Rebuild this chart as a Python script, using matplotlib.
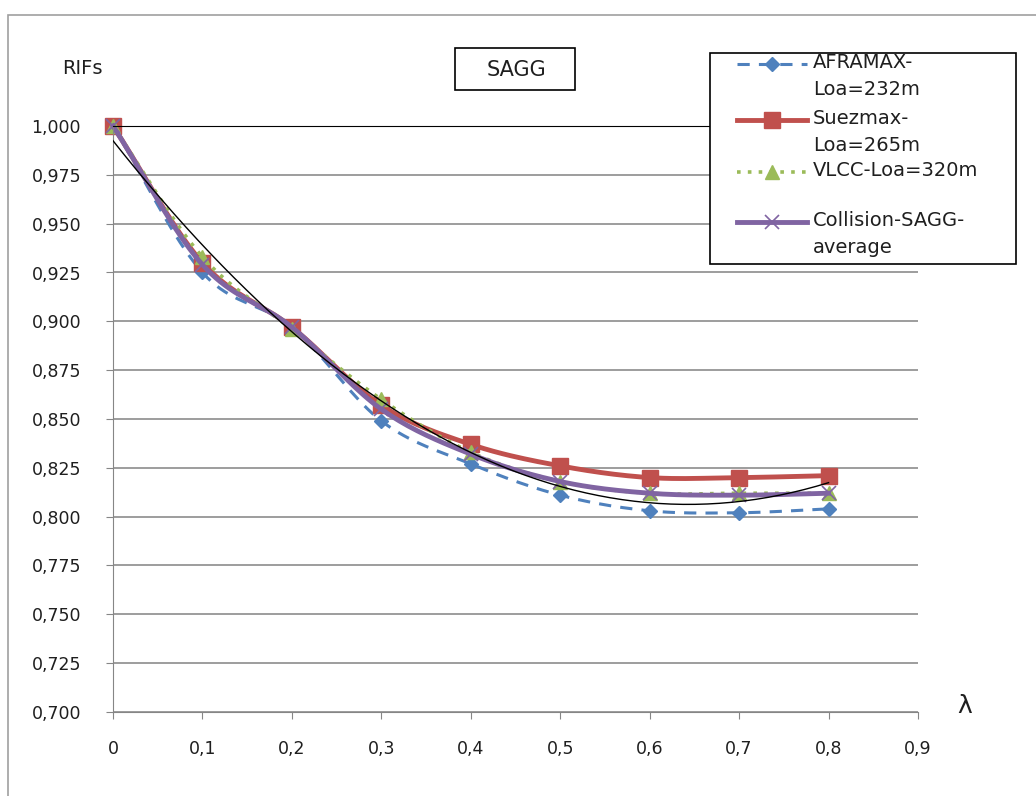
import numpy as np
import matplotlib.pyplot as plt
from matplotlib.lines import Line2D
from matplotlib.patches import Rectangle

# dados
lam = [0, 0.1, 0.2, 0.3, 0.4, 0.5, 0.6, 0.7, 0.8]
aframax = [1.000, 0.925, 0.897, 0.849, 0.827, 0.811, 0.803, 0.802, 0.804]
suezmax = [1.000, 0.930, 0.897, 0.857, 0.837, 0.826, 0.820, 0.820, 0.821]
vlcc = [1.000, 0.933, 0.896, 0.860, 0.833, 0.818, 0.812, 0.812, 0.812]
media = [1.000, 0.929, 0.897, 0.855, 0.832, 0.818, 0.812, 0.811, 0.812]

labels = ["AFRAMAX-\nLoa=232m", "Suezmax-\nLoa=265m", "VLCC-Loa=320m", "Collision-SAGG-\naverage"]
yticks = [0.700, 0.725, 0.750, 0.775, 0.800, 0.825, 0.850, 0.875, 0.900, 0.925, 0.950, 0.975, 1.000]
xticks = [0, 0.1, 0.2, 0.3, 0.4, 0.5, 0.6, 0.7, 0.8, 0.9]

plt.rcParams['font.family'] = ['DejaVu Sans']

W, H = 1036, 796
TXT = '#1f1f1f'


def suave(x, y, n=20):
    # curva suavizada tipo Excel (Catmull-Rom)
    x = np.asarray(x, float)
    y = np.asarray(y, float)
    px = np.concatenate([[2 * x[0] - x[1]], x, [2 * x[-1] - x[-2]]])
    py = np.concatenate([[2 * y[0] - y[1]], y, [2 * y[-1] - y[-2]]])
    xs, ys = [], []
    for i in range(1, len(px) - 2):
        t = np.linspace(0, 1, n, endpoint=False)
        for p, out in ((px, xs), (py, ys)):
            p0, p1, p2, p3 = p[i - 1], p[i], p[i + 1], p[i + 2]
            out.extend(0.5 * (2 * p1 + (-p0 + p2) * t + (2 * p0 - 5 * p1 + 4 * p2 - p3) * t ** 2
                              + (-p0 + 3 * p1 - 3 * p2 + p3) * t ** 3))
    xs.append(x[-1])
    ys.append(y[-1])
    return xs, ys


fig = plt.figure(figsize=(W / 100, H / 100), dpi=100)
ax = fig.add_axes([113 / W, 1 - 712 / H, (918 - 113) / W, (712 - 126) / H])

# moldura externa
fig.patches.append(Rectangle((8 / W, -0.05), 2, 1 - 15 / H + 0.05, transform=fig.transFigure,
                             fill=False, edgecolor='#a0a0a0', lw=1.2))

series = [
    (aframax, '#4F81BD', dict(ls=(0, (4, 3)), lw=2.2), dict(marker='D', ms=7)),
    (suezmax, '#C0504D', dict(ls='-', lw=3.5), dict(marker='s', ms=12)),
    (vlcc, '#9BBB59', dict(ls=(0, (1, 2)), lw=2.6), dict(marker='^', ms=10)),
    (media, '#8064A2', dict(ls='-', lw=3.5), dict(marker='x', ms=10, mew=1.2)),
]
for vals, cor, estilo, marca in series:
    sx, sy = suave(lam, vals)
    ax.plot(sx, sy, color=cor, clip_on=False, **estilo)
    ax.plot(lam, vals, ls='none', color=cor, clip_on=False, **marca)

# linha de tendencia polinomial (ordem 2) da media
coef = np.polyfit(lam, media, 2)
xt = np.linspace(0, 0.8, 60)
ax.plot(xt, np.polyval(coef, xt), color='black', lw=1.0, zorder=5)

ax.set_xlim(0, 0.9)
ax.set_ylim(0.7, 1.0)
ax.set_xticks(xticks)
ax.set_xticklabels([('%g' % v).replace('.', ',') for v in xticks], fontsize=12.5, color=TXT)
ax.set_yticks(yticks)
ax.set_yticklabels([('%.3f' % v).replace('.', ',') for v in yticks], fontsize=12.5, color=TXT)
ax.tick_params(axis='both', length=5, color='#868686')
ax.tick_params(axis='y', pad=18)
ax.tick_params(axis='x', pad=15)
ax.grid(axis='y', color='#8c8c8c', lw=1.2)
ax.set_axisbelow(True)
ax.spines['right'].set_visible(False)
ax.spines['top'].set_color('black')
ax.spines['left'].set_color('#868686')
ax.spines['bottom'].set_color('#868686')

# textos
fig.text(62 / W, 1 - 68 / H, 'RIFs', fontsize=14, va='center', ha='left', color=TXT)
fig.text(965 / W, 1 - 706 / H, 'λ', fontsize=18, va='center', ha='center', color=TXT)
fig.patches.append(Rectangle((455 / W, 1 - 90 / H), 120 / W, 42 / H, transform=fig.transFigure,
                             fill=False, edgecolor='black', lw=1.2))
fig.text(516 / W, 1 - 70 / H, 'SAGG', fontsize=15, va='center', ha='center', color=TXT)

# legenda manual
fig.patches.append(Rectangle((710 / W, 1 - 264 / H), 306 / W, 211 / H, transform=fig.transFigure,
                             facecolor='white', edgecolor='black', lw=1.2, zorder=10))
ys_leg = [64, 120, 172, 222]
for (vals, cor, estilo, marca), lab, yl in zip(series, labels, ys_leg):
    yf = 1 - yl / H
    fig.add_artist(Line2D([737 / W, 807 / W], [yf, yf], color=cor, transform=fig.transFigure,
                          zorder=11, **estilo))
    fig.add_artist(Line2D([772 / W], [yf], color=cor, ls='none', transform=fig.transFigure,
                          zorder=11, **marca))
    fig.text(813 / W, yf + 11 / H, lab, fontsize=14, va='top', ha='left', color=TXT,
             linespacing=1.55, zorder=12)

plt.savefig('out.png', dpi=100)
